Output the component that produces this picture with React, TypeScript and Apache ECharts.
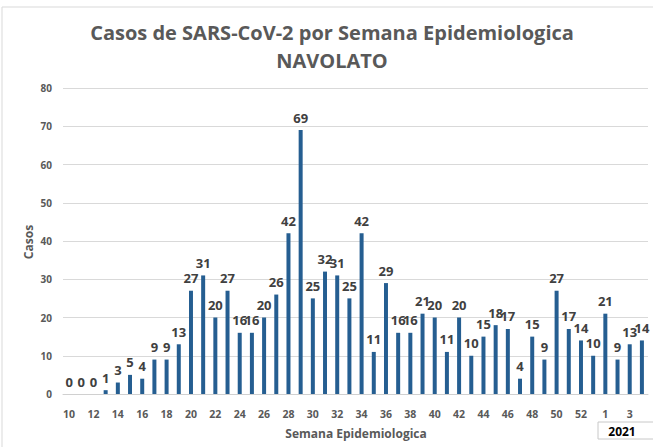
import React, { useEffect, useRef } from "react";
import * as echarts from "echarts";

const weeks: string[] = [
  "10","11","12","13","14","15","16","17","18","19",
  "20","21","22","23","24","25","26","27","28","29",
  "30","31","32","33","34","35","36","37","38","39",
  "40","41","42","43","44","45","46","47","48","49",
  "50","51","52","53","1","2","3","4",
];
const casos: number[] = [
  0,0,0,1,3,5,4,9,9,13,
  27,31,20,27,16,16,20,26,42,69,
  25,32,31,25,42,11,29,16,16,21,
  20,11,20,10,15,18,17,4,15,9,
  27,17,14,10,21,9,13,14,
];
const yTicks = { min: 0, max: 80, interval: 10 };
const titleLines = ["Casos de SARS-CoV-2 por Semana Epidemiologica", "NAVOLATO"];
const yName = "Casos";
const xName = "Semana Epidemiologica";
const yearTag = "2021";

export default function App() {
  const ref = useRef<HTMLDivElement>(null);
  useEffect(() => {
    if (!ref.current) return;
    const chart = echarts.init(ref.current, undefined, { renderer: "svg" });
    const font = "'Open Sans', 'Liberation Sans', sans-serif";
    chart.setOption({
      animation: false,
      backgroundColor: "#ffffff",
      textStyle: { fontFamily: font },
      grid: { left: 63, right: 5, top: 88, bottom: 53, containLabel: false },
      xAxis: {
        type: "category",
        data: weeks,
        axisTick: { show: false },
        axisLine: { lineStyle: { color: "#d0d0d0" } },
        axisLabel: {
          interval: 1,
          fontSize: 10.5,
          fontWeight: "bold",
          color: "#595959",
          margin: 14,
          fontFamily: font,
        },
      },
      yAxis: {
        type: "value",
        min: yTicks.min,
        max: yTicks.max,
        interval: yTicks.interval,
        axisLine: { show: false },
        axisTick: { show: false },
        splitLine: { lineStyle: { color: "#d9d9d9" } },
        axisLabel: {
          fontSize: 10,
          fontWeight: "bold",
          color: "#595959",
          margin: 11,
          fontFamily: font,
        },
      },
      series: [
        {
          type: "bar",
          data: casos,
          barWidth: 4,
          itemStyle: { color: "#255E91" },
          label: {
            show: true,
            position: "top",
            distance: 6,
            fontSize: 13,
            fontWeight: "bold",
            color: "#404040",
            fontFamily: font,
          },
        },
      ],
      graphic: [
        {
          type: "rect",
          shape: { x: 2, y: 7, width: 700, height: 500 },
          style: { fill: "none", stroke: "#d9d9d9", lineWidth: 1 },
          z: -1,
          silent: true,
        },
        {
          type: "text",
          x: 332,
          y: 32,
          style: {
            text: titleLines[0],
            fontSize: 20,
            fontWeight: "bold",
            fill: "#595959",
            fontFamily: font,
            textAlign: "center",
            textVerticalAlign: "middle",
          },
        },
        {
          type: "text",
          x: 332,
          y: 60,
          style: {
            text: titleLines[1],
            fontSize: 20,
            fontWeight: "bold",
            fill: "#595959",
            fontFamily: font,
            textAlign: "center",
            textVerticalAlign: "middle",
          },
        },
        {
          type: "text",
          x: 28,
          y: 242,
          rotation: Math.PI / 2,
          style: {
            text: yName,
            fontSize: 12,
            fontWeight: "bold",
            fill: "#595959",
            fontFamily: font,
            textAlign: "center",
            textVerticalAlign: "middle",
          },
        },
        {
          type: "text",
          x: 356,
          y: 433,
          style: {
            text: xName,
            fontSize: 12,
            fontWeight: "bold",
            fill: "#595959",
            fontFamily: font,
            textAlign: "center",
            textVerticalAlign: "middle",
          },
        },
        {
          type: "rect",
          shape: { x: 598, y: 422, width: 60, height: 17 },
          style: { fill: "#ffffff", stroke: "#c8c8c8", lineWidth: 1 },
        },
        {
          type: "text",
          x: 622,
          y: 431,
          style: {
            text: yearTag,
            fontSize: 12,
            fontWeight: "bold",
            fill: "#000000",
            fontFamily: font,
            textAlign: "center",
            textVerticalAlign: "middle",
          },
        },
      ],
    });
    return () => chart.dispose();
  }, []);
  return (
    <div
      ref={ref}
      style={{ position: "fixed", left: 0, top: 0, width: 653, height: 447 }}
    />
  );
}
